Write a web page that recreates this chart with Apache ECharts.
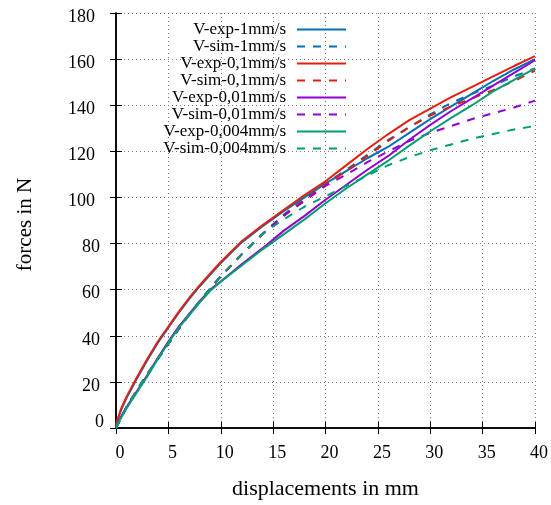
<!DOCTYPE html>
<html>
<head>
<meta charset="utf-8">
<script src="https://cdn.jsdelivr.net/npm/echarts@6/dist/echarts.min.js"></script>
<style>html,body{margin:0;padding:0;background:#fff;}#c{width:551px;height:505px;}</style>
</head>
<body>
<div id="c"></div>
<script>
const xs = [0,0.5,1,2,3,4,5,6,7,8,9,10,12,14,16,18,20,22,24,26,28,30,32,34,36,38,40];
const expBlue   = [1.5,8,13,21.5,29.5,37,43.5,50,56,61.5,66.5,71.5,80.5,87.5,94,100,106,111.5,117,122,128,134,139.5,145,150.5,155.5,160];
const simBlue   = [0,4.5,9,16.5,23.5,30,36.5,43,49.3,55,60.5,65.8,75.3,84.2,92.5,99.5,106,112,118.5,125,130.5,136,141,145,148.5,152.5,156];
const expRed    = [1.5,8.5,13.5,22,30,37.5,44,50.5,56.5,62,67,72,81,88,94.5,101,107,114,121,127.5,133.5,138.5,143.5,148,152.5,157,161.3];
const simRed    = [0,4.5,9,16.5,23.5,30,36.5,43,49.3,55,60.5,65.8,75.3,84.2,92,99,105.5,111.5,118,124.5,130.5,135.5,139.5,143,146.5,150.5,155];
const expPurple = [0.5,5,9,16,23,30.5,37.5,44,49.5,55,60,63.5,71,78,85.5,92,99,105.5,112,118,125,131.5,137.5,143,148.5,154,159.5];
const simPurple = [0,4.5,9,16.5,23.5,30,36.5,43,49.3,55,60.5,65.8,75.3,84.2,92,98.5,105,110,115.3,120,124.5,128,131,134,136.5,139,142];
const expGreen  = [0.5,4.5,8.5,15.5,22.5,30,37,43.5,49,54.5,59.5,63.5,70.5,77.5,84,90.5,97.5,104,110,116,122.5,128.7,134.5,140,146,151,156];
const simGreen  = [0,4.5,9,16.5,23.5,30,36.5,43,49.3,55,60.5,65.8,75.3,84.2,90.5,96,100.5,105,109.5,114,117.5,120.5,123,125.5,127.5,129.5,131];
const names = ['V-exp-1mm/s','V-sim-1mm/s','V-exp-0,1mm/s','V-sim-0,1mm/s','V-exp-0,01mm/s','V-sim-0,01mm/s','V-exp-0,004mm/s','V-sim-0,004mm/s'];
const values = [expBlue,simBlue,expRed,simRed,expPurple,simPurple,expGreen,simGreen];
const colors = ['#0072b2','#0072b2','#e51e10','#e51e10','#9400d3','#9400d3','#009e73','#009e73'];
const xTicks = [0,5,10,15,20,25,30,35,40];
const yTicks = [0,20,40,60,80,100,120,140,160,180];

const F = 'Liberation Serif, Times New Roman, serif';
const chart = echarts.init(document.getElementById('c'), null, {renderer:'canvas'});
const series = names.map((n,i)=>({
  name:n, type:'line', symbol:'none', showSymbol:false, smooth:false,
  data: xs.map((x,j)=>[x, values[i][j]]),
  lineStyle:{color:colors[i], width:2, type: i%2===1 ? [8,8] : 'solid'},
  itemStyle:{color:colors[i]},
  xAxisIndex:0, yAxisIndex:0, animation:false
}));
const tickInside = {show:true, inside:true, length:6, lineStyle:{color:'#000', width:1}};
chart.setOption({
  animation:false,
  backgroundColor:'#fff',
  grid:{left:116, right:16, top:13, bottom:74, containLabel:false},
  legend:{
    data:names, orient:'vertical', align:'right', right:204, top:21, padding:0,
    itemWidth:49, itemHeight:2, itemGap:0,
    itemStyle:{opacity:0},
    textStyle:{fontFamily:F, fontSize:17, lineHeight:17, color:'#000', padding:[0,6,0,0]}
  },
  xAxis:[{
    type:'value', min:0, max:40, interval:5, position:'bottom',
    name:'displacements in mm', nameLocation:'middle', nameGap:50,
    nameTextStyle:{fontFamily:F, fontSize:22, color:'#000'},
    axisLine:{show:true, lineStyle:{color:'#000', width:1.5}},
    axisTick:tickInside,
    axisLabel:{fontFamily:F, fontSize:18, color:'#000', margin:16, padding:[0,0,0,8]},
    splitLine:{show:true, lineStyle:{color:'#777', width:1, type:[1,3]}}
  },{
    type:'value', min:0, max:40, interval:5, position:'top',
    axisLine:{show:true, lineStyle:{color:'#000', width:1.5}},
    axisTick:tickInside, axisLabel:{show:false}, splitLine:{show:false}
  }],
  yAxis:[{
    type:'value', min:0, max:180, interval:20, position:'left',
    name:'forces in N', nameLocation:'middle', nameGap:80, nameRotate:90,
    nameTextStyle:{fontFamily:F, fontSize:21, color:'#000', padding:[0,8,0,0]},
    axisLine:{show:true, lineStyle:{color:'#000', width:1.5}},
    axisTick:tickInside,
    axisLabel:{
      fontFamily:F, fontSize:18, color:'#000', margin:12,
      formatter:function(v){const s=String(v);const k=s.length===1?'a':(s.length===2?'b':'c');return '{'+k+'|'+s+'}';},
      rich:{
        a:{fontFamily:F, fontSize:18, color:'#000', padding:[0,0,12,0]},
        b:{fontFamily:F, fontSize:18, color:'#000', padding:[8,4,0,0]},
        c:{fontFamily:F, fontSize:18, color:'#000', padding:[8,9,0,0]}
      }
    },
    splitLine:{show:true, lineStyle:{color:'#777', width:1, type:[1,3]}}
  },{
    type:'value', min:0, max:180, interval:20, position:'right',
    axisLine:{show:true, lineStyle:{color:'#000', width:1.5}},
    axisTick:tickInside, axisLabel:{show:false}, splitLine:{show:false}
  }],
  series:series
});
</script>
</body>
</html>
